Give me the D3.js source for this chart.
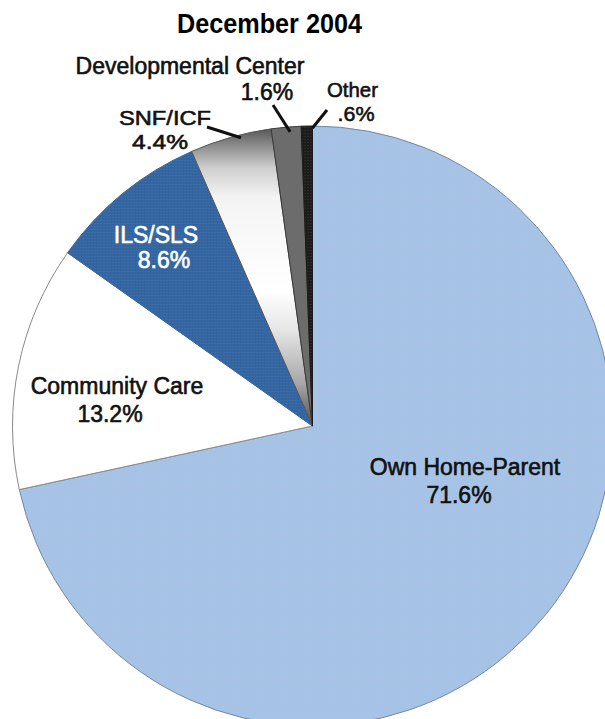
<!DOCTYPE html>
<html>
<head>
<meta charset="utf-8">
<script src="https://cdn.jsdelivr.net/npm/d3@7/dist/d3.min.js"></script>
<style>
  html, body { margin: 0; padding: 0; background: #ffffff; }
  svg { display: block; }
  text { font-family: "Liberation Sans", Arial, Helvetica, sans-serif; }
</style>
</head>
<body>
<svg id="chart" width="605" height="719"></svg>
<script>
// Residence type of consumers, December 2004
const title = "December 2004";
const categories = ["Own Home-Parent", "Community Care", "ILS/SLS", "SNF/ICF", "Developmental Center", "Other"];
const shares = [71.6, 13.2, 8.6, 4.4, 1.6, 0.6];
const shareLabels = ["71.6%", "13.2%", "8.6%", "4.4%", "1.6%", ".6%"];

const width = 605, height = 719;
const cx = 312.5, cy = 426, radius = 300;

const svg = d3.select("#chart");
const defs = svg.append("defs");

// Dotted halftone fills
function dotPattern(id, base, dot) {
  const p = defs.append("pattern")
    .attr("id", id).attr("patternUnits", "userSpaceOnUse")
    .attr("width", 3).attr("height", 3);
  p.append("rect").attr("width", 3).attr("height", 3).attr("fill", base);
  p.append("rect").attr("x", 1).attr("y", 1).attr("width", 1).attr("height", 1).attr("fill", dot);
}
dotPattern("dotsLight", "#a5c4e5", "#b4bbea");
dotPattern("dotsBlue", "#33669f", "#4b70ba");
dotPattern("dotsBlack", "#1c1c1c", "#3a3a3a");

// Grey shading of the SNF/ICF wedge, dark near the rim and the centre
// (coordinates are relative to the pie centre)
const grad = defs.append("linearGradient")
  .attr("id", "snfShade").attr("gradientUnits", "userSpaceOnUse")
  .attr("x1", 0).attr("y1", -radius).attr("x2", 0).attr("y2", 0);
[[0, "#4e4e4e"], [0.05, "#7e7e7e"], [0.14, "#cfcfcf"], [0.24, "#f4f4f4"],
 [0.55, "#ffffff"], [0.68, "#e6e6e6"], [0.86, "#a6a6a6"], [1, "#505050"]]
  .forEach(([o, c]) => grad.append("stop").attr("offset", o).attr("stop-color", c));

const fills = ["url(#dotsLight)", "#ffffff", "url(#dotsBlue)", "url(#snfShade)", "#6c6c6c", "url(#dotsBlack)"];
const strokes = ["#7488a0", "#8a8a8a", "#33669f", "#555555", "#3a3a3a", "#1c1c1c"];

const data = categories.map((name, i) => ({ name, value: shares[i], label: shareLabels[i], i }));

const pie = d3.pie().sort(null).value(d => d.value).startAngle(0).endAngle(2 * Math.PI);
const arcs = pie(data);
const arc = d3.arc().innerRadius(0).outerRadius(radius);

const g = svg.append("g").attr("transform", `translate(${cx},${cy})`);

g.selectAll("path.slice")
  .data(arcs)
  .join("path")
  .attr("class", "slice")
  .attr("d", arc)
  .attr("fill", d => fills[d.data.i])
  .attr("stroke", d => strokes[d.data.i])
  .attr("stroke-width", 1);

// Title
svg.append("text")
  .attr("x", 269.5).attr("y", 33)
  .attr("text-anchor", "middle")
  .attr("font-size", 28).attr("font-weight", "bold")
  .attr("textLength", 185).attr("lengthAdjust", "spacingAndGlyphs")
  .attr("fill", "#000")
  .text(title);

// Label placement: name line, value line, font size, optional widths for the
// tightly stacked labels, optional leader line into the wedge
const labelLayout = [
  { name: [465, 475], value: [459, 503], size: 23, color: "#111" },
  { name: [117, 394], value: [110, 422], size: 23, color: "#111" },
  { name: [156, 243], value: [164, 268], size: 23, color: "#ffffff" },
  { name: [165, 125], value: [160, 149], size: 21, widths: [92, 56], color: "#111",
    leader: { from: [207, 127], t: 0.62, r: 297 } },
  { name: [190, 74],  value: [267, 100], size: 23, color: "#111",
    leader: { from: [273, 105], t: 0.62, r: 295 } },
  { name: [352.5, 97], value: [356, 121], size: 21, widths: [51, 37], color: "#111",
    leader: { from: [327, 110], t: 1.0, r: 298 } }
];

const labels = svg.append("g");

arcs.forEach((a, k) => {
  const L = labelLayout[k];
  [[a.data.name, L.name], [a.data.label, L.value]].forEach(([txt, pos], j) => {
    const t = labels.append("text")
      .attr("x", pos[0]).attr("y", pos[1])
      .attr("text-anchor", "middle")
      .attr("font-size", L.size)
      .attr("fill", L.color)
      .attr("stroke", L.color).attr("stroke-width", 0.6)
      .text(txt);
    if (L.widths) {
      t.attr("textLength", L.widths[j]).attr("lengthAdjust", "spacingAndGlyphs");
    }
  });
  if (L.leader) {
    const ang = a.startAngle + (a.endAngle - a.startAngle) * L.leader.t;
    const ex = cx + L.leader.r * Math.sin(ang);
    const ey = cy - L.leader.r * Math.cos(ang);
    labels.append("line")
      .attr("x1", L.leader.from[0]).attr("y1", L.leader.from[1])
      .attr("x2", ex).attr("y2", ey)
      .attr("stroke", "#111").attr("stroke-width", 3)
      .attr("stroke-linecap", "butt");
  }
});
</script>
</body>
</html>
